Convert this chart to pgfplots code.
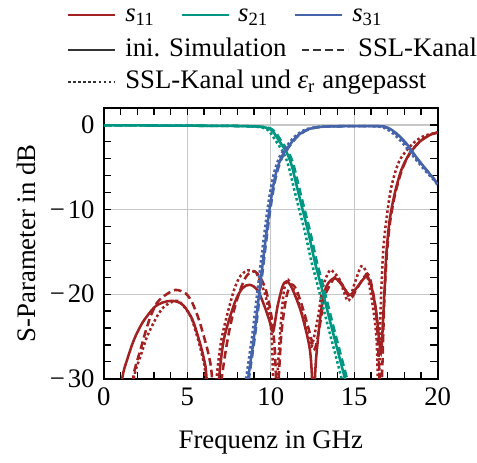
\documentclass[border=0pt]{standalone}
\usepackage{fontspec}
\setmainfont{Liberation Serif}
\usepackage{pgfplots}
\pgfplotsset{compat=1.18}
\definecolor{kitred}{RGB}{162,34,35}
\definecolor{kitgreen}{RGB}{0,150,130}
\definecolor{kitblue}{RGB}{70,100,170}
\begin{document}
\fontsize{10.5pt}{12.6pt}\selectfont
\begin{tikzpicture}
\begin{axis}[
  name=ax,
  scale only axis,
  width=131pt, height=106.3pt,
  xmin=0, xmax=20, ymin=-30, ymax=2,
  xtick={0,5,10,15,20}, xticklabels={0,5,10,15,20},
  ytick={-30,-20,-10,0},
  yticklabels={−\kern0.1em30,−\kern0.1em20,−\kern0.1em10,0},
  minor x tick num=4, minor y tick num=4,
  tick align=inside,
  major tick length=2.8pt, minor tick length=2.8pt,
  every tick/.style={black, line width=0.5pt},
  grid=major, major grid style={black!22, line width=0.5pt},
  axis line style={line width=0.8pt},
  xlabel={Frequenz in GHz},
  ylabel={S-Parameter in dB},
  every axis x label/.style={at={(rel axis cs:0.5,0)}, yshift=-24.9pt, anchor=center},
  every axis y label/.style={at={(rel axis cs:0,0.5)}, xshift=-30.3pt, rotate=90, anchor=center},
  every axis plot/.append style={line width=1pt, smooth},
]
% s11
\addplot[kitred] coordinates {(0.7,-36)(1.1,-29.9)(1.4,-27.7)(1.8,-25.4)(2.3,-23.4)(3.0,-21.6)(3.5,-21.0)(4.0,-20.8)(4.4,-20.9)(4.8,-21.4)(5.3,-23.0)(5.7,-25.4)(6.0,-27.7)(6.15,-29.9)(6.45,-40)(6.75,-33)(7.0,-28)(7.25,-24.8)(7.84,-21.0)(8.3,-19.3)(8.74,-18.9)(9.2,-19.5)(9.6,-21.3)(9.9,-23.0)(10.14,-24.4)(10.4,-21.5)(10.7,-19.1)(10.94,-18.5)(11.25,-19.2)(11.83,-22.2)(12.34,-26.5)(12.5,-31)(12.55,-34)(12.62,-31)(12.73,-27.3)(13.03,-21.8)(13.33,-19.1)(13.83,-18.1)(14.33,-19.1)(14.73,-20.1)(15.13,-19.3)(15.73,-17.9)(16.03,-19.1)(16.33,-22.2)(16.53,-26.1)(16.63,-26.8)(16.73,-23)(16.83,-19.1)(16.93,-15.1)(17.13,-11.2)(17.43,-8.1)(17.83,-5.3)(18.32,-3.4)(18.92,-2.0)(19.52,-1.2)(20,-0.9)};
\addplot[kitred, dash pattern=on 3pt off 1.6pt] coordinates {(1.4,-36)(1.75,-30)(1.9,-28.5)(2.2,-26.5)(2.5,-24.4)(2.8,-22.6)(3.19,-21.0)(3.69,-20.1)(4.29,-19.5)(4.89,-19.9)(5.29,-21.0)(5.69,-23.0)(5.99,-25.0)(6.29,-27.3)(6.48,-30)(6.7,-40)(6.95,-32)(7.25,-27.3)(7.6,-23.5)(8.0,-20.5)(8.5,-18.0)(9.04,-17.3)(9.64,-19.1)(10.04,-22.6)(10.24,-26.5)(10.34,-31)(10.44,-31)(10.64,-24.6)(10.94,-20.3)(11.24,-18.9)(11.54,-19.5)(11.94,-21.8)(12.34,-24.6)(12.63,-26.5)(12.93,-23.8)(13.23,-20.3)(13.73,-18.3)(13.93,-18.0)(14.33,-19.0)(14.78,-20.5)(15.2,-19.2)(15.8,-17.6)(16.1,-19.5)(16.35,-23)(16.5,-29)(16.58,-33)(16.68,-29)(16.8,-21)(16.95,-15.5)(17.15,-11.5)(17.45,-8.2)(17.85,-5.4)(18.32,-3.4)(18.92,-2.0)(19.52,-1.2)(20,-0.9)};
\addplot[kitred, densely dotted] coordinates {(1.5,-36)(1.8,-29.9)(2.2,-27.3)(2.59,-25)(3.19,-22.6)(3.6,-21.5)(3.99,-21.0)(4.3,-20.8)(4.59,-21.0)(5.19,-22.6)(5.59,-25)(5.89,-27.3)(6.09,-29.7)(6.35,-40)(6.65,-32)(6.95,-26.5)(7.25,-23.5)(7.8,-19.5)(8.2,-17.8)(8.6,-17.2)(8.95,-17.3)(9.24,-17.9)(9.74,-20.6)(10.04,-24.6)(10.14,-30)(10.25,-40)(10.4,-30)(10.6,-23.5)(10.8,-19.5)(11.04,-18.3)(11.54,-20.3)(12.04,-23.4)(12.3,-25.5)(12.44,-26.2)(12.6,-25)(12.84,-22.6)(13.13,-19.1)(13.53,-17.2)(13.8,-17.5)(14.13,-18.3)(14.63,-20.8)(15.03,-18.7)(15.43,-16.7)(15.73,-17.5)(16.03,-20.3)(16.33,-25)(16.43,-31)(16.5,-30)(16.58,-22)(16.73,-15.1)(16.93,-11.2)(17.23,-7.3)(17.72,-4.2)(18.52,-2.2)(19.2,-1.3)(20,-0.9)};
% s21
\addplot[kitgreen] coordinates {(0,-0.05)(3,-0.07)(6,-0.1)(8,-0.13)(9,-0.18)(9.54,-0.25)(9.9,-0.45)(10.14,-0.8)(10.54,-2.0)(10.94,-3.2)(11.24,-4.7)(11.54,-7.1)(11.84,-9.5)(12.24,-12.6)(12.63,-16.1)(13.03,-19.1)(13.5,-22.8)(14.0,-26.6)(14.45,-30)(14.7,-32)};
\addplot[kitgreen, dash pattern=on 3pt off 1.6pt] coordinates {(0,-0.05)(3,-0.07)(6,-0.1)(8,-0.13)(9,-0.18)(9.6,-0.25)(10.02,-0.45)(10.26,-0.8)(10.66,-2.0)(11.06,-3.2)(11.36,-4.7)(11.66,-7.1)(11.96,-9.5)(12.36,-12.6)(12.75,-16.1)(13.15,-19.1)(13.62,-22.8)(14.12,-26.6)(14.57,-30)(14.82,-32)};
\addplot[kitgreen, densely dotted] coordinates {(0,-0.05)(3,-0.07)(6,-0.1)(8,-0.13)(9,-0.2)(9.45,-0.3)(9.75,-0.5)(9.94,-0.8)(10.34,-2.0)(10.74,-3.2)(11.04,-4.7)(11.34,-7.1)(11.64,-9.5)(12.04,-12.6)(12.43,-16.1)(12.83,-19.1)(13.3,-22.8)(13.8,-26.6)(14.25,-30)(14.5,-32)};
% s31
\addplot[kitblue] coordinates {(8.45,-33)(8.64,-30)(9.0,-25)(9.3,-20)(9.6,-15)(9.9,-10.3)(10.14,-7.3)(10.34,-5.5)(10.64,-3.8)(11.04,-2.6)(11.54,-1.4)(12.14,-0.6)(12.93,-0.24)(14.5,-0.15)(16.5,-0.15)(17.03,-0.35)(17.53,-1.0)(18.13,-2.2)(18.72,-3.8)(19.32,-5.3)(19.82,-6.5)(20,-7.1)};
\addplot[kitblue, dash pattern=on 3pt off 1.6pt] coordinates {(8.5,-33)(8.69,-30)(9.05,-25)(9.35,-20)(9.65,-15)(9.95,-10.3)(10.19,-7.3)(10.39,-5.5)(10.69,-3.8)(11.09,-2.6)(11.59,-1.4)(12.19,-0.6)(12.98,-0.24)(14.5,-0.15)(16.5,-0.15)(17.03,-0.4)(17.53,-1.1)(18.13,-2.3)(18.72,-3.9)(19.32,-5.3)(19.82,-6.5)(20,-7.1)};
\addplot[kitblue, densely dotted] coordinates {(8.33,-33)(8.52,-30)(8.88,-25)(9.18,-20)(9.48,-15)(9.78,-10.3)(10.02,-7.3)(10.22,-5.5)(10.52,-3.8)(10.92,-2.6)(11.42,-1.4)(12.02,-0.6)(12.85,-0.24)(14.5,-0.15)(16.4,-0.18)(16.95,-0.5)(17.5,-1.3)(18.1,-2.6)(18.7,-4.1)(19.3,-5.5)(19.82,-6.6)(20,-7.1)};
\end{axis}
% legend
\draw[kitred, line width=1pt] ([xshift=-14.1pt,yshift=36.5pt]ax.north west) -- ++(18.4pt,0);
\node[anchor=mid west, inner sep=0pt] at ([xshift=8.2pt,yshift=36.5pt]ax.north west) {\textit{s}\textsubscript{11}};
\draw[kitgreen, line width=1pt] ([xshift=30.6pt,yshift=36.5pt]ax.north west) -- ++(18.4pt,0);
\node[anchor=mid west, inner sep=0pt] at ([xshift=52.5pt,yshift=36.5pt]ax.north west) {\textit{s}\textsubscript{21}};
\draw[kitblue, line width=1pt] ([xshift=74.9pt,yshift=36.5pt]ax.north west) -- ++(18.4pt,0);
\node[anchor=mid west, inner sep=0pt] at ([xshift=97.3pt,yshift=36.5pt]ax.north west) {\textit{s}\textsubscript{31}};
\draw[black!80, line width=1pt] ([xshift=-14.1pt,yshift=22.7pt]ax.north west) -- ++(18.4pt,0);
\node[anchor=mid west, inner sep=0pt] at ([xshift=8.2pt,yshift=22.7pt]ax.north west) {ini. Simulation};
\draw[black!80, line width=1pt, dash pattern=on 3pt off 1.6pt] ([xshift=77.6pt,yshift=22.7pt]ax.north west) -- ++(18.4pt,0);
\node[anchor=mid west, inner sep=0pt] at ([xshift=99.6pt,yshift=22.7pt]ax.north west) {SSL-Kanal};
\draw[black!80, line width=1pt, densely dotted] ([xshift=-14.1pt,yshift=10.2pt]ax.north west) -- ++(18.4pt,0);
\node[anchor=mid west, inner sep=0pt] at ([xshift=8.2pt,yshift=10.2pt]ax.north west) {SSL-Kanal und \textit{ε}\textsubscript{r} angepasst};
% picture frame as in the reference
\path ([shift={(-40.8pt,42.4pt)}]ax.north west) rectangle ([shift={(146.3pt,-28.2pt)}]ax.south west);
\end{tikzpicture}
\end{document}
